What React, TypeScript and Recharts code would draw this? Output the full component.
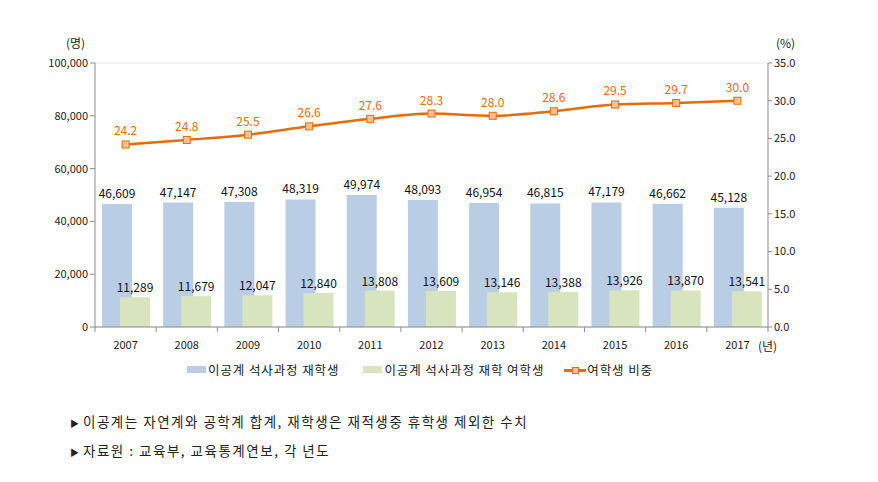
import { ComposedChart, Bar, Line, XAxis, YAxis, CartesianGrid, LabelList } from 'recharts'

const years = ['2007', '2008', '2009', '2010', '2011', '2012', '2013', '2014', '2015', '2016', '2017']
const totalStudents = [46609, 47147, 47308, 48319, 49974, 48093, 46954, 46815, 47179, 46662, 45128]
const femaleStudents = [11289, 11679, 12047, 12840, 13808, 13609, 13146, 13388, 13926, 13870, 13541]
const femaleRatio = [24.2, 24.8, 25.5, 26.6, 27.6, 28.3, 28.0, 28.6, 29.5, 29.7, 30.0]
const leftTicks = [0, 20000, 40000, 60000, 80000, 100000]
const rightTicks = [0, 5, 10, 15, 20, 25, 30, 35]

const data = years.map((year, i) => ({
  year,
  total: totalStudents[i],
  female: femaleStudents[i],
  ratio: femaleRatio[i],
}))

const FONT = '"Noto Sans CJK KR", "Noto Sans", sans-serif'
const BLUE = '#B9CDE5'
const GREEN = '#D7E4BD'
const ORANGE = '#E46C0A'
const AXIS = '#8C8C8C'

const PLOT_LEFT = 95
const PLOT_RIGHT = 768
const BAND = (PLOT_RIGHT - PLOT_LEFT) / years.length

function YearTick(props: any) {
  const { x, y, payload, index } = props
  const last = index === years.length - 1
  return (
    <g>
      <line x1={x - BAND / 2} x2={x - BAND / 2} y1={y - 8} y2={y - 3} stroke={AXIS} />
      {last && <line x1={x + BAND / 2} x2={x + BAND / 2} y1={y - 8} y2={y - 3} stroke={AXIS} />}
      <text x={x} y={y + 14} textAnchor="middle" fontSize={11} fill="#222" fontFamily={FONT}>
        {payload.value}
      </text>
    </g>
  )
}

function SquareDot(props: any) {
  const { cx, cy } = props
  if (cx == null || cy == null) return null
  return <rect x={cx - 3.5} y={cy - 3.5} width={7} height={7} fill="#FAC090" stroke={ORANGE} strokeWidth={1} />
}

export default function App() {
  return (
    <div style={{ position: 'absolute', left: 0, top: 0, width: 878, height: 482, background: '#fff', fontFamily: FONT }}>
      <ComposedChart
        width={878}
        height={482}
        data={data}
        margin={{ top: 63, right: 50, bottom: 125, left: 35 }}
        barSize={30}
        barGap={-12}
      >
        <CartesianGrid vertical={false} stroke="#E8E8E8" />
        <XAxis
          dataKey="year"
          tick={<YearTick />}
          tickLine={false}
          axisLine={{ stroke: AXIS }}
          height={30}
          interval={0}
        />
        <YAxis
          yAxisId="left"
          width={60}
          domain={[0, 100000]}
          ticks={leftTicks}
          tickFormatter={(v: number) => v.toLocaleString('en-US')}
          tick={{ fontSize: 11, fill: '#222', fontFamily: FONT }}
          tickSize={5}
          tickLine={{ stroke: AXIS }}
          axisLine={{ stroke: AXIS }}
        />
        <YAxis
          yAxisId="right"
          orientation="right"
          width={60}
          domain={[0, 35]}
          ticks={rightTicks}
          tickFormatter={(v: number) => v.toFixed(1)}
          tick={{ fontSize: 11, fill: '#222', fontFamily: FONT }}
          tickSize={4}
          tickLine={{ stroke: AXIS }}
          axisLine={{ stroke: AXIS }}
        />
        <Bar yAxisId="left" dataKey="total" fill={BLUE} isAnimationActive={false}>
          <LabelList
            dataKey="total"
            position="top"
            offset={6}
            formatter={(v: number) => v.toLocaleString('en-US')}
            style={{ fontSize: 12, fill: '#111', fontFamily: FONT }}
          />
        </Bar>
        <Bar yAxisId="left" dataKey="female" fill={GREEN} isAnimationActive={false}>
          <LabelList
            dataKey="female"
            position="top"
            offset={5}
            formatter={(v: number) => v.toLocaleString('en-US')}
            style={{ fontSize: 12, fill: '#111', fontFamily: FONT }}
          />
        </Bar>
        <Line
          yAxisId="right"
          type="monotone"
          dataKey="ratio"
          stroke={ORANGE}
          strokeWidth={2.5}
          dot={<SquareDot />}
          activeDot={false}
          isAnimationActive={false}
        >
          <LabelList
            dataKey="ratio"
            position="top"
            offset={9}
            formatter={(v: number) => v.toFixed(1)}
            style={{ fontSize: 12, fill: ORANGE, fontFamily: FONT }}
          />
        </Line>
      </ComposedChart>

      <div style={{ position: 'absolute', left: 66, top: 34, fontSize: 12, color: '#222' }}>(명)</div>
      <div style={{ position: 'absolute', left: 776, top: 34, fontSize: 12, color: '#222' }}>(%)</div>
      <div style={{ position: 'absolute', left: 758, top: 337, fontSize: 12, color: '#222' }}>(년)</div>

      <div style={{ position: 'absolute', left: 187, top: 360, display: 'flex', alignItems: 'center', fontSize: 12.5, color: '#222', whiteSpace: 'nowrap', letterSpacing: 0.9 }}>
        <span style={{ width: 19, height: 7, background: BLUE, display: 'inline-block' }} />
        <span style={{ marginLeft: 2 }}>이공계 석사과정 재학생</span>
        <span style={{ width: 19, height: 7, background: GREEN, display: 'inline-block', marginLeft: 24 }} />
        <span style={{ marginLeft: 2 }}>이공계 석사과정 재학 여학생</span>
        <span style={{ position: 'relative', width: 22, height: 10, display: 'inline-block', marginLeft: 20 }}>
          <span style={{ position: 'absolute', left: 0, right: 0, top: 4, height: 3, background: ORANGE }} />
          <span style={{ position: 'absolute', left: 8, top: 2, width: 5, height: 5, background: '#FAC090', border: `1px solid ${ORANGE}` }} />
        </span>
        <span style={{ marginLeft: 1 }}>여학생 비중</span>
      </div>

      <div style={{ position: 'absolute', left: 70, top: 408, fontSize: 13.5, color: '#222', lineHeight: '26px', whiteSpace: 'nowrap', letterSpacing: 1.5 }}>
        <div><span style={{ fontSize: 9, marginRight: 4, letterSpacing: 0 }}>▶</span>이공계는 자연계와 공학계 합계, 재학생은 재적생중 휴학생 제외한 수치</div>
        <div><span style={{ fontSize: 9, marginRight: 4, letterSpacing: 0 }}>▶</span>자료원 : 교육부, 교육통계연보, 각 년도</div>
      </div>
    </div>
  )
}
